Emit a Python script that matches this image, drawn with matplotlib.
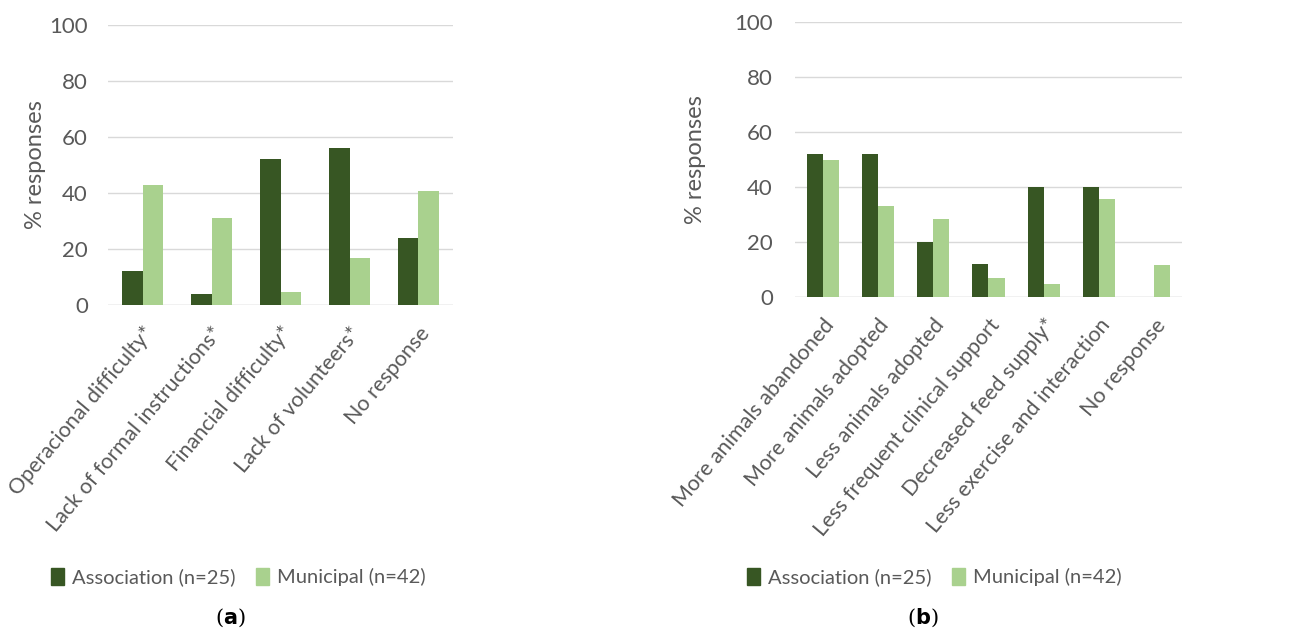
import matplotlib
matplotlib.use("Agg")
import matplotlib.pyplot as plt
import numpy as np
from matplotlib.patches import Patch

# ---- data ----
cats_a = ["Operacional difficulty*", "Lack of formal instructions*", "Financial difficulty*",
          "Lack of volunteers*", "No response"]
assoc_a = [12, 4, 52, 56, 24]
munic_a = [42.9, 31.0, 4.8, 16.7, 40.5]

cats_b = ["More animals abandoned", "More animals adopted", "Less animals adopted",
          "Less frequent clinical support", "Decreased feed supply*",
          "Less exercise and interaction", "No response"]
assoc_b = [52, 52, 20, 12, 40, 40, 0]
munic_b = [50.0, 33.3, 28.6, 7.1, 4.8, 35.7, 11.9]

yticks = [0, 20, 40, 60, 80, 100]
series_names = ["Association (n=25)", "Municipal (n=42)"]
panel_labels = ["a", "b"]

# ---- style ----
DARK = "#375623"
LIGHT = "#A9D18E"
TXT = "#595959"
GRID = "#D9D9D9"
plt.rcParams['font.family'] = ['Lato', 'DejaVu Sans']

fig = plt.figure(figsize=(13.1, 6.32), dpi=100)

W, H = 1310, 632
def ax_rect(x0, x1, y_top, y_bot):
    return [x0 / W, 1 - y_bot / H, (x1 - x0) / W, (y_bot - y_top) / H]

ax1 = fig.add_axes(ax_rect(108, 453, 24.5, 305))
ax2 = fig.add_axes(ax_rect(795, 1182, 22.3, 297.3))

bw = 0.29
panels = [(ax1, cats_a, assoc_a, munic_a, 14.5, -0.179),
          (ax2, cats_b, assoc_b, munic_b, 16, -0.230)]
for ax, cats, a, m, ypad, ylx in panels:
    x = np.arange(len(cats))
    ax.bar(x - bw / 2, a, width=bw, color=DARK, zorder=3)
    ax.bar(x + bw / 2, m, width=bw, color=LIGHT, zorder=3)
    ax.set_xlim(-0.5, len(cats) - 0.5)
    ax.set_ylim(0, 100)
    ax.set_yticks(yticks)
    ax.set_yticklabels([str(t) for t in yticks])
    ax.yaxis.grid(True, color=GRID, linewidth=1.0, zorder=0)
    ax.set_axisbelow(True)
    for s in ax.spines.values():
        s.set_visible(False)
    ax.tick_params(axis='both', length=0, colors=TXT)
    ax.tick_params(axis='y', labelsize=16, pad=ypad)
    ax.set_xticks(x)
    ax.set_xticklabels(cats, rotation=50, ha='right', va='top',
                       rotation_mode='anchor', fontsize=15.5, color=TXT)
    ax.tick_params(axis='x', pad=13)
    ax.set_ylabel("% responses", fontsize=17, color=TXT)
    ax.yaxis.set_label_coords(ylx, 0.5)
    ax.axhline(0, color=GRID, linewidth=1.0, zorder=2)

handles = [Patch(color=DARK), Patch(color=LIGHT)]
for cx in [238.5 / W, 934 / W]:
    fig.legend(handles, series_names, loc='center', bbox_to_anchor=(cx, 1 - 577 / H),
               ncol=2, frameon=False, fontsize=14.5, labelcolor=TXT,
               handlelength=0.65, handleheight=0.95, handletextpad=0.4, columnspacing=1.0)

for cx, lab in [(230 / W, panel_labels[0]), (923 / W, panel_labels[1])]:
    fig.text(cx, 1 - 618 / H, "(" + r"$\mathbf{" + lab + "}$" + ")", ha='center', va='center',
             fontsize=15, family='DejaVu Serif', color='black')

fig.savefig("out.png", dpi=100)
